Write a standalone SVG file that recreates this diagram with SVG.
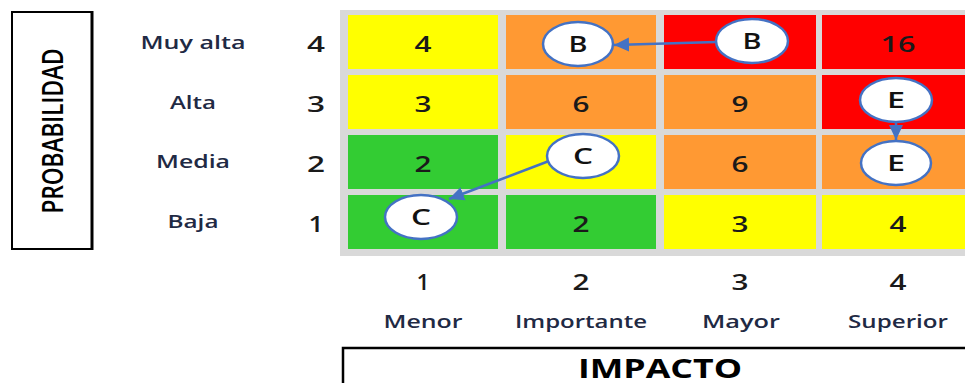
<svg xmlns="http://www.w3.org/2000/svg" width="965" height="383" viewBox="0 0 965 383">
<defs>
<style>
.t{font-family:"Open Sans","Liberation Sans",sans-serif;text-anchor:middle;}
.lab{font-size:18px;fill:#1f2a44;font-weight:600;}
.num{font-size:22px;fill:#1a1a1a;font-weight:600;}
.cell{stroke:none;}
.y{fill:#ffff00;}.o{fill:#ff9933;}.r{fill:#ff0000;}.g{fill:#33cc33;}
.el{fill:#ffffff;stroke:#4472c4;stroke-width:2.5;}
.ltr{font-size:22px;fill:#111111;font-weight:600;}
.arr{stroke:#4472c4;stroke-width:2.5;fill:none;marker-end:url(#ah);}
.box{fill:none;stroke:#000000;stroke-width:2;}
</style>
<marker id="ah" markerUnits="userSpaceOnUse" markerWidth="16" markerHeight="16" refX="15" refY="7" orient="auto" viewBox="0 0 16 14">
<path d="M0,0 L15,7 L0,14 z" fill="#4472c4"/>
</marker>
</defs>
<rect width="965" height="383" fill="#ffffff"/>

<g id="prob-box">
<rect class="box" x="12" y="12" width="80" height="237"/>
<line x1="92" y1="11" x2="92" y2="250" stroke="#000" stroke-width="3"/>
<text class="t" x="0" y="0" font-size="29" font-weight="600" fill="#000" transform="translate(63,131) rotate(-90)" textLength="165" lengthAdjust="spacingAndGlyphs">PROBABILIDAD</text>
</g>

<g id="row-labels">
<text class="t lab" x="193" y="49" textLength="105" lengthAdjust="spacingAndGlyphs">Muy alta</text>
<text class="t lab" x="193" y="109" textLength="46" lengthAdjust="spacingAndGlyphs">Alta</text>
<text class="t lab" x="193" y="168" textLength="74" lengthAdjust="spacingAndGlyphs">Media</text>
<text class="t lab" x="193" y="228" textLength="51" lengthAdjust="spacingAndGlyphs">Baja</text>
<text class="t num" x="316" y="52" textLength="18" lengthAdjust="spacingAndGlyphs">4</text>
<text class="t num" x="316" y="112" textLength="18" lengthAdjust="spacingAndGlyphs">3</text>
<text class="t num" x="316" y="172" textLength="18" lengthAdjust="spacingAndGlyphs">2</text>
<text class="t num" x="316" y="232" textLength="15" lengthAdjust="spacingAndGlyphs">1</text>
</g>

<g id="matrix">
<rect x="340" y="10" width="625" height="246" fill="#d9d9d9"/>
<rect class="cell y" x="348" y="15" width="150" height="54"/>
<rect class="cell o" x="506" y="15" width="150" height="54"/>
<rect class="cell r" x="664" y="15" width="152" height="54"/>
<rect class="cell r" x="822" y="15" width="150" height="54"/>
<rect class="cell y" x="348" y="75" width="150" height="54"/>
<rect class="cell o" x="506" y="75" width="150" height="54"/>
<rect class="cell o" x="664" y="75" width="152" height="54"/>
<rect class="cell r" x="822" y="75" width="150" height="54"/>
<rect class="cell g" x="348" y="135" width="150" height="54"/>
<rect class="cell y" x="506" y="135" width="150" height="54"/>
<rect class="cell o" x="664" y="135" width="152" height="54"/>
<rect class="cell o" x="822" y="135" width="150" height="54"/>
<rect class="cell g" x="348" y="195" width="150" height="54"/>
<rect class="cell g" x="506" y="195" width="150" height="54"/>
<rect class="cell y" x="664" y="195" width="152" height="54"/>
<rect class="cell y" x="822" y="195" width="150" height="54"/>
<text class="t num" x="423" y="52" textLength="17" lengthAdjust="spacingAndGlyphs">4</text>
<text class="t num" x="898" y="52" textLength="35" lengthAdjust="spacingAndGlyphs">16</text>
<text class="t num" x="423" y="112" textLength="17" lengthAdjust="spacingAndGlyphs">3</text>
<text class="t num" x="581" y="112" textLength="17" lengthAdjust="spacingAndGlyphs">6</text>
<text class="t num" x="740" y="112" textLength="17" lengthAdjust="spacingAndGlyphs">9</text>
<text class="t num" x="423" y="172" textLength="17" lengthAdjust="spacingAndGlyphs">2</text>
<text class="t num" x="740" y="172" textLength="17" lengthAdjust="spacingAndGlyphs">6</text>
<text class="t num" x="581" y="232" textLength="17" lengthAdjust="spacingAndGlyphs">2</text>
<text class="t num" x="740" y="232" textLength="17" lengthAdjust="spacingAndGlyphs">3</text>
<text class="t num" x="898" y="232" textLength="17" lengthAdjust="spacingAndGlyphs">4</text>
</g>

<g id="connectors">
<line class="arr" x1="716" y1="42" x2="614" y2="45"/>
<line class="arr" x1="549" y1="161" x2="449" y2="199"/>
<line class="arr" x1="896" y1="122" x2="896" y2="140"/>
</g>

<g id="node-B-origin">
<ellipse class="el" cx="752" cy="41" rx="36" ry="22"/>
<text class="t ltr" x="752" y="49" textLength="19" lengthAdjust="spacingAndGlyphs">B</text>
</g>
<g id="node-B-target">
<ellipse class="el" cx="578" cy="44" rx="35" ry="22"/>
<text class="t ltr" x="578" y="52" textLength="19" lengthAdjust="spacingAndGlyphs">B</text>
</g>
<g id="node-C-origin">
<ellipse class="el" cx="583" cy="156" rx="36" ry="22"/>
<text class="t ltr" x="583" y="164" textLength="20" lengthAdjust="spacingAndGlyphs">C</text>
</g>
<g id="node-C-target">
<ellipse class="el" cx="421" cy="217" rx="36" ry="22"/>
<text class="t ltr" x="421" y="225" textLength="20" lengthAdjust="spacingAndGlyphs">C</text>
</g>
<g id="node-E-origin">
<ellipse class="el" cx="896" cy="100" rx="36" ry="22"/>
<text class="t ltr" x="896" y="108" textLength="18" lengthAdjust="spacingAndGlyphs">E</text>
</g>
<g id="node-E-target">
<ellipse class="el" cx="896" cy="163" rx="35" ry="22"/>
<text class="t ltr" x="896" y="171" textLength="18" lengthAdjust="spacingAndGlyphs">E</text>
</g>

<g id="col-labels">
<text class="t num" x="423" y="290" font-size="21" textLength="13" lengthAdjust="spacingAndGlyphs">1</text>
<text class="t num" x="581" y="290" font-size="21" textLength="17" lengthAdjust="spacingAndGlyphs">2</text>
<text class="t num" x="740" y="290" font-size="21" textLength="17" lengthAdjust="spacingAndGlyphs">3</text>
<text class="t num" x="898" y="290" font-size="21" textLength="17" lengthAdjust="spacingAndGlyphs">4</text>
<text class="t lab" x="423" y="328" textLength="79" lengthAdjust="spacingAndGlyphs">Menor</text>
<text class="t lab" x="581" y="328" textLength="132" lengthAdjust="spacingAndGlyphs">Importante</text>
<text class="t lab" x="741" y="328" textLength="78" lengthAdjust="spacingAndGlyphs">Mayor</text>
<text class="t lab" x="898" y="328" textLength="100" lengthAdjust="spacingAndGlyphs">Superior</text>
</g>

<g id="impacto-box">
<polyline points="343,383 343,348 965,348" fill="none" stroke="#000" stroke-width="2.5"/>
<text class="t" x="660" y="378" font-size="26" font-weight="bold" fill="#000" textLength="164" lengthAdjust="spacingAndGlyphs">IMPACTO</text>
</g>
</svg>
